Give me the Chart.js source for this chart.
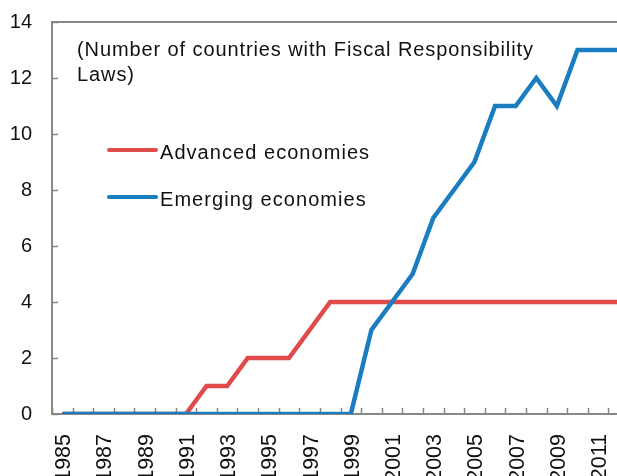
<!doctype html>
<html lang="en">
  <head>
    <meta charset="utf-8">
    <title>Fiscal Responsibility Laws</title>
    <style>
      * {
        margin: 0;
        padding: 0;
      }
      html, body {
        width: 617px;
        height: 476px;
        overflow: hidden;
        background: #fff;
      }
      .chartBox {
        width: 629px;
        height: 482px;
      }
    </style>
  </head>
  <body>
    <div class="chartBox">
      <canvas id="myChart"></canvas>
    </div>
    <script src="https://cdn.jsdelivr.net/npm/chart.js/dist/chart.umd.min.js"></script>
    <script>
    // setup
    const years = ['1985', '1986', '1987', '1988', '1989', '1990', '1991', '1992', '1993', '1994',
      '1995', '1996', '1997', '1998', '1999', '2000', '2001', '2002', '2003', '2004',
      '2005', '2006', '2007', '2008', '2009', '2010', '2011', '2012'];
    const advanced = [0, 0, 0, 0, 0, 0, 0, 1, 1, 2, 2, 2, 3, 4, 4, 4, 4, 4, 4, 4, 4, 4, 4, 4, 4, 4, 4, 4];
    const emerging = [0, 0, 0, 0, 0, 0, 0, 0, 0, 0, 0, 0, 0, 0, 0, 3, 4, 5, 7, 8, 9, 11, 11, 12, 11, 13, 13, 13];
    const yTicks = [0, 2, 4, 6, 8, 10, 12, 14];
    const note = ['(Number of countries with Fiscal Responsibility', 'Laws)'];

    const axisGray = '#878787';
    const font = '"Liberation Sans", Arial, sans-serif';

    // inward tick marks, top frame line, note text and legend inside the plot
    const decorations = {
      id: 'decorations',
      beforeDatasetsDraw(chart) {
        const { ctx, chartArea, scales: { x, y } } = chart;
        ctx.save();
        ctx.strokeStyle = axisGray;
        ctx.lineWidth = 1.5;
        ctx.beginPath();
        const half = (x.getPixelForValue(1) - x.getPixelForValue(0)) / 2;
        for (let i = 0; i <= years.length; i++) {
          const px = Math.round(x.getPixelForValue(i) - half) + 0.5;
          ctx.moveTo(px, chartArea.bottom);
          ctx.lineTo(px, chartArea.bottom - 6);
        }
        yTicks.forEach(v => {
          const py = Math.round(y.getPixelForValue(v)) + 0.5;
          ctx.moveTo(chartArea.left, py);
          ctx.lineTo(chartArea.left + 6, py);
        });
        ctx.stroke();
        ctx.lineWidth = 2;
        ctx.beginPath();
        ctx.moveTo(chartArea.left - 1, chartArea.top);
        ctx.lineTo(chartArea.right, chartArea.top);
        ctx.stroke();
        ctx.restore();
      },
      afterDraw(chart) {
        const { ctx, chartArea } = chart;
        ctx.save();
        ctx.fillStyle = '#111';
        ctx.font = '20px ' + font;
        ctx.letterSpacing = '0.9px';
        ctx.textBaseline = 'middle';
        ctx.textAlign = 'left';
        note.forEach((t, i) => ctx.fillText(t, chartArea.left + 25, chartArea.top + 28 + i * 25));
        ctx.letterSpacing = '1.05px';
        chart.data.datasets.forEach((ds, i) => {
          const ly = chartArea.top + 128 + i * 47;
          ctx.strokeStyle = ds.borderColor;
          ctx.lineWidth = 4;
          ctx.lineCap = 'round';
          ctx.beginPath();
          ctx.moveTo(chartArea.left + 57, ly);
          ctx.lineTo(chartArea.left + 104, ly);
          ctx.stroke();
          ctx.fillText(ds.label, chartArea.left + 108, ly + 3);
        });
        ctx.restore();
      }
    };

    const data = {
      labels: years,
      datasets: [{
        label: 'Advanced economies',
        data: advanced,
        borderColor: '#DE4B4A',
        order: 2
      }, {
        label: 'Emerging economies',
        data: emerging,
        borderColor: '#1A7DC1',
        order: 1
      }]
    };

    // config
    const config = {
      type: 'line',
      data,
      options: {
        responsive: true,
        maintainAspectRatio: false,
        animation: false,
        layout: { padding: { top: 22, left: 0, right: 0, bottom: 0 } },
        elements: {
          line: { borderWidth: 4.5, tension: 0, borderCapStyle: 'butt', borderJoinStyle: 'miter' },
          point: { radius: 0 }
        },
        plugins: {
          legend: { display: false },
          tooltip: { enabled: false }
        },
        scales: {
          x: {
            offset: true,
            afterFit: s => {
              s.height = 68;
              s.paddingLeft = 0;
              s.paddingRight = 0;
            },
            grid: { display: false, offset: true, drawTicks: false },
            border: { display: true, color: axisGray, width: 2 },
            ticks: {
              autoSkip: false,
              minRotation: 90,
              maxRotation: 90,
              padding: 20,
              labelOffset: 2,
              color: '#111',
              font: { family: font, size: 21.5 },
              callback: (val, i) => i % 2 === 0 ? years[i] : ''
            }
          },
          y: {
            min: 0,
            max: 14,
            afterFit: s => {
              s.width = 52;
              s.paddingTop = 0;
              s.paddingBottom = 0;
            },
            grid: { display: false, drawTicks: false },
            border: { display: true, color: axisGray, width: 2 },
            ticks: {
              stepSize: 2,
              padding: 20,
              color: '#111',
              font: { family: font, size: 20 }
            }
          }
        }
      },
      plugins: [decorations]
    };

    // render init block
    const ctx = document.getElementById('myChart');
    const myChart = new Chart(ctx, config);
    </script>
  </body>
</html>
